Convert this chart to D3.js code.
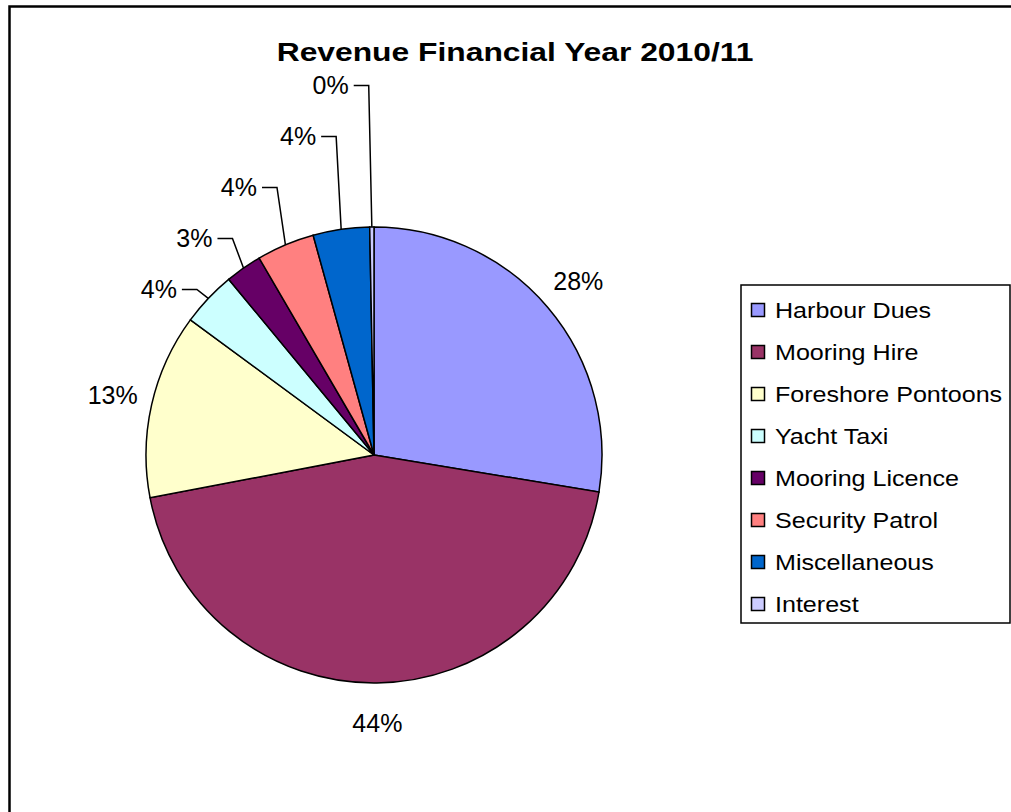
<!DOCTYPE html>
<html>
<head>
<meta charset="utf-8">
<script src="https://cdn.jsdelivr.net/npm/d3@7"></script>
<style>
  body { margin: 0; background: #fff; }
  text { font-family: "Liberation Sans", Arial, sans-serif; }
</style>
</head>
<body>
<script>
  var width = 1011;
  var height = 812;

  var categories = ["Harbour Dues", "Mooring Hire", "Foreshore Pontoons", "Yacht Taxi",
                    "Mooring Licence", "Security Patrol", "Miscellaneous", "Interest"];
  var revenueShare = [27.6, 44.4, 13.1, 3.9, 2.6, 4.1, 4.0, 0.3];
  var colors = ["#9999ff", "#993366", "#ffffcc", "#ccffff", "#660066", "#ff8080", "#0066cc", "#ccccff"];

  var cx = 374, cy = 455, radius = 228;

  var svg = d3.select("body")
    .append("svg")
    .attr("width", width)
    .attr("height", height);

  // chart frame (runs off the right and bottom of the picture)
  svg.append("rect")
    .attr("x", 9.5).attr("y", 6.5)
    .attr("width", 1100).attr("height", 900)
    .style("fill", "none")
    .style("stroke", "#000")
    .style("stroke-width", 2.5);

  // the original text is drawn a little wide
  svg.append("text")
    .attr("transform", "translate(515,61) scale(1.2,1)")
    .attr("text-anchor", "middle")
    .style("font-size", "26.5px")
    .style("font-weight", "bold")
    .text("Revenue Financial Year 2010/11");

  var total = d3.sum(revenueShare);
  var fmt = d3.format(".0%");

  var pie = d3.pie().sort(null).value(function(d) { return d; });
  var arcs = pie(revenueShare);

  var arc = d3.arc().innerRadius(0).outerRadius(radius);

  var g = svg.append("g").attr("transform", "translate(" + cx + "," + cy + ")");

  g.selectAll("path")
    .data(arcs)
    .enter()
    .append("path")
    .attr("d", arc)
    .style("fill", function(d, i) { return colors[i]; })
    .style("stroke", "#000")
    .style("stroke-width", 1.5);

  function mid(d) { return (d.startAngle + d.endAngle) / 2; }

  // big slices: label just outside the rim
  arcs.forEach(function(d, i) {
    if (d.data / total < 0.05) return;
    var a = mid(d), r = radius + 40;
    g.append("text")
      .attr("x", r * Math.sin(a))
      .attr("y", -r * Math.cos(a))
      .attr("text-anchor", "middle")
      .attr("dy", "0.35em")
      .style("font-size", "25px")
      .text(fmt(d.data / total));
  });

  // small slices: stacked callouts with leader lines
  var prevY = null;
  arcs.forEach(function(d, i) {
    if (d.data / total >= 0.05) return;
    var a = mid(d);
    var px = radius * Math.sin(a), py = -radius * Math.cos(a);
    var ey = py - 9;
    if (prevY !== null) ey = Math.min(ey, prevY - 51);
    prevY = ey;
    var ex = px - 3 - 14 * Math.min(0.6, -Math.sin(a));
    var lx = ex - 15;
    g.append("polyline")
      .attr("points", [[px, py], [ex, ey], [lx, ey]].map(function(p) { return p.join(","); }).join(" "))
      .style("fill", "none")
      .style("stroke", "#000")
      .style("stroke-width", 1.5);
    g.append("text")
      .attr("x", lx - 5)
      .attr("y", ey)
      .attr("dy", "0.35em")
      .attr("text-anchor", "end")
      .style("font-size", "25px")
      .text(fmt(d.data / total));
  });

  // legend
  var legend = svg.append("g").attr("transform", "translate(741,285)");
  legend.append("rect")
    .attr("width", 269).attr("height", 338)
    .style("fill", "#fff")
    .style("stroke", "#000")
    .style("stroke-width", 1.5);

  var rowY = d3.scalePoint().domain(categories).range([25, 319]);

  var item = legend.selectAll("g.item")
    .data(categories)
    .enter()
    .append("g")
    .attr("class", "item")
    .attr("transform", function(d) { return "translate(0," + rowY(d) + ")"; });

  item.append("rect")
    .attr("x", 10.5).attr("y", -6.5)
    .attr("width", 13).attr("height", 13)
    .style("fill", function(d, i) { return colors[i]; })
    .style("stroke", "#000")
    .style("stroke-width", 1.5);

  item.append("text")
    .attr("transform", "translate(34,0) scale(1.14,1)")
    .attr("dy", "0.35em")
    .style("font-size", "22px")
    .text(function(d) { return d; });
</script>
</body>
</html>
